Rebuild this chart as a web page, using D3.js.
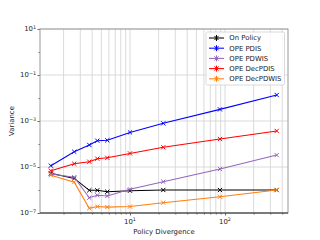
<!DOCTYPE html>
<html>
<head>
<meta charset="utf-8">
<script src="https://cdn.jsdelivr.net/npm/d3@7"></script>
<style>
  body { margin: 0; background: white; }
  svg { font-family: "DejaVu Sans", sans-serif; }
</style>
</head>
<body>
<script>
// data
const divergence = [1.47, 2.59, 3.73, 4.53, 5.77, 10, 22.4, 88.5, 350]
const onPolicy   = [5.3e-6, 3.2e-6, 9.7e-7, 9.7e-7, 8.4e-7, 9.3e-7, 1.0e-6, 1.0e-6, 1.0e-6]
const opePDIS    = [1.14e-5, 4.6e-5, 9.1e-5, 1.39e-4, 1.45e-4, 3.2e-4, 7.9e-4, 3.2e-3, 1.35e-2]
const opePDWIS   = [5.0e-6, 3.6e-6, 4.6e-7, 5.9e-7, 5.5e-7, 1.07e-6, 2.3e-6, 8.2e-6, 3.3e-5]
const opeDecPDIS = [6.9e-6, 1.39e-5, 1.7e-5, 2.3e-5, 2.5e-5, 3.9e-5, 7.2e-5, 1.65e-4, 3.7e-4]
const opeDecPDWIS = [4.4e-6, 2.2e-6, 1.6e-7, 1.9e-7, 1.8e-7, 1.9e-7, 2.8e-7, 5.1e-7, 1.0e-6]
const seriesNames = ["On Policy", "OPE PDIS", "OPE PDWIS", "OPE DecPDIS", "OPE DecPDWIS"]
const seriesColors = ["#000000", "#0000ff", "#9467bd", "#ff0000", "#ff7f0e"]
const xTicks = [10, 100]
const yTicks = [1e-7, 1e-5, 1e-3, 1e-1, 1e1]

const w = 320, h = 240
const pL = 40, pR = 288, pT = 29, pB = 213
const fs = 6.9

const series = [onPolicy, opePDIS, opePDWIS, opeDecPDIS, opeDecPDWIS]

const xScale = d3.scaleLog().domain([1.13, 460]).range([pL, pR])
const yScale = d3.scaleLog().domain([1e-7, 10]).range([pB, pT])

const svg = d3.select("body").append("svg")
  .attr("width", w).attr("height", h)

// grid: x major+minor, y only labelled decades
const xGridVals = []
for (let d = 1; d <= 100; d *= 10) {
  for (let k = 1; k < 10; k++) {
    const v = d * k
    if (v >= 1.13 && v <= 460) xGridVals.push(v)
  }
}
svg.append("g").selectAll("line").data(xGridVals).enter().append("line")
  .attr("x1", d => xScale(d)).attr("x2", d => xScale(d))
  .attr("y1", pT).attr("y2", pB)
  .attr("stroke", "#d2d2d2").attr("stroke-width", 0.8)
svg.append("g").selectAll("line").data(yTicks).enter().append("line")
  .attr("x1", pL).attr("x2", pR)
  .attr("y1", d => yScale(d)).attr("y2", d => yScale(d))
  .attr("stroke", "#d2d2d2").attr("stroke-width", 0.8)

// axes
const xAxis = d3.axisBottom(xScale).tickValues(xTicks).tickFormat("").tickSize(2.5)
const xMinor = d3.axisBottom(xScale).tickValues(xGridVals.filter(v => xTicks.indexOf(v) < 0)).tickFormat("").tickSize(1.5)
const yAxis = d3.axisLeft(yScale).tickValues(yTicks).tickFormat("").tickSize(2.5)
const yMinor = d3.axisLeft(yScale).tickValues([1e-6, 1e-4, 1e-2, 1]).tickFormat("").tickSize(1.5)

svg.append("g").attr("transform", "translate(0," + pB + ")").call(xAxis)
svg.append("g").attr("transform", "translate(0," + pB + ")").call(xMinor)
svg.append("g").attr("transform", "translate(" + pL + ",0)").call(yAxis)
svg.append("g").attr("transform", "translate(" + pL + ",0)").call(yMinor)
svg.selectAll(".domain").remove()
svg.selectAll(".tick line").attr("stroke", "#000").attr("stroke-width", 0.6)

// frame
svg.append("rect").attr("x", pL).attr("y", pT)
  .attr("width", pR - pL).attr("height", pB - pT)
  .attr("fill", "none").attr("stroke", "#999").attr("stroke-width", 1)
svg.append("line").attr("x1", pL).attr("x2", pR)
  .attr("y1", pB).attr("y2", pB)
  .attr("stroke", "#222").attr("stroke-width", 0.9)

// tick labels with superscripts
function powLabel(sel, v) {
  const e = Math.round(Math.log10(v))
  sel.append("tspan").text("10")
  sel.append("tspan").attr("font-size", fs * 0.7).attr("dy", -fs * 0.42)
    .text(e < 0 ? "\u2212" + (-e) : String(e))
}
xTicks.forEach(v => {
  const t = svg.append("text").attr("x", xScale(v)).attr("y", pB + 10.5)
    .attr("text-anchor", "middle").attr("font-size", fs).attr("fill", "#222")
  powLabel(t, v)
})
yTicks.forEach(v => {
  const t = svg.append("text").attr("x", pL - 4).attr("y", yScale(v) + 2.4)
    .attr("text-anchor", "end").attr("font-size", fs).attr("fill", "#222")
  powLabel(t, v)
})

svg.append("text").attr("x", (pL + pR) / 2).attr("y", 234)
  .attr("text-anchor", "middle").attr("font-size", fs).attr("fill", "#222")
  .text("Policy Divergence")
svg.append("text").attr("transform", "translate(14," + ((pT + pB) / 2) + ") rotate(-90)")
  .attr("text-anchor", "middle").attr("font-size", fs).attr("fill", "#222")
  .text("Variance")

// lines + x markers
const line = d3.line().x((d, i) => xScale(divergence[i])).y(d => yScale(d))
const m = 2.1
series.forEach((s, k) => {
  const g = svg.append("g")
  g.append("path").datum(s).attr("d", line)
    .attr("fill", "none").attr("stroke", seriesColors[k]).attr("stroke-width", 1.05)
  g.selectAll("path.mk").data(s).enter().append("path").attr("class", "mk")
    .attr("d", (d, i) => {
      const x = xScale(divergence[i]), y = yScale(d)
      return "M" + (x - m) + "," + (y - m) + "L" + (x + m) + "," + (y + m) +
             "M" + (x - m) + "," + (y + m) + "L" + (x + m) + "," + (y - m)
    })
    .attr("stroke", seriesColors[k]).attr("stroke-width", 1)
})

// legend
const lg = svg.append("g")
lg.append("rect").attr("x", 206).attr("y", 32).attr("width", 78.5).attr("height", 53)
  .attr("rx", 1.5).attr("fill", "white").attr("fill-opacity", 0.8)
  .attr("stroke", "#d0d0d0").attr("stroke-width", 0.8)
seriesNames.forEach((name, k) => {
  const y = 38 + k * 10.2
  lg.append("line").attr("x1", 209).attr("x2", 224).attr("y1", y).attr("y2", y)
    .attr("stroke", seriesColors[k]).attr("stroke-width", 1.05)
  lg.append("line").attr("x1", 216.5).attr("x2", 216.5).attr("y1", y - 3).attr("y2", y + 3)
    .attr("stroke", seriesColors[k]).attr("stroke-width", 1)
  lg.append("path")
    .attr("d", "M" + (216.5 - m) + "," + (y - m) + "L" + (216.5 + m) + "," + (y + m) +
               "M" + (216.5 - m) + "," + (y + m) + "L" + (216.5 + m) + "," + (y - m))
    .attr("stroke", seriesColors[k]).attr("stroke-width", 1)
  lg.append("text").attr("x", 229.3).attr("y", y + 2.4).attr("font-size", fs).attr("fill", "#222")
    .text(name)
})
</script>
</body>
</html>
